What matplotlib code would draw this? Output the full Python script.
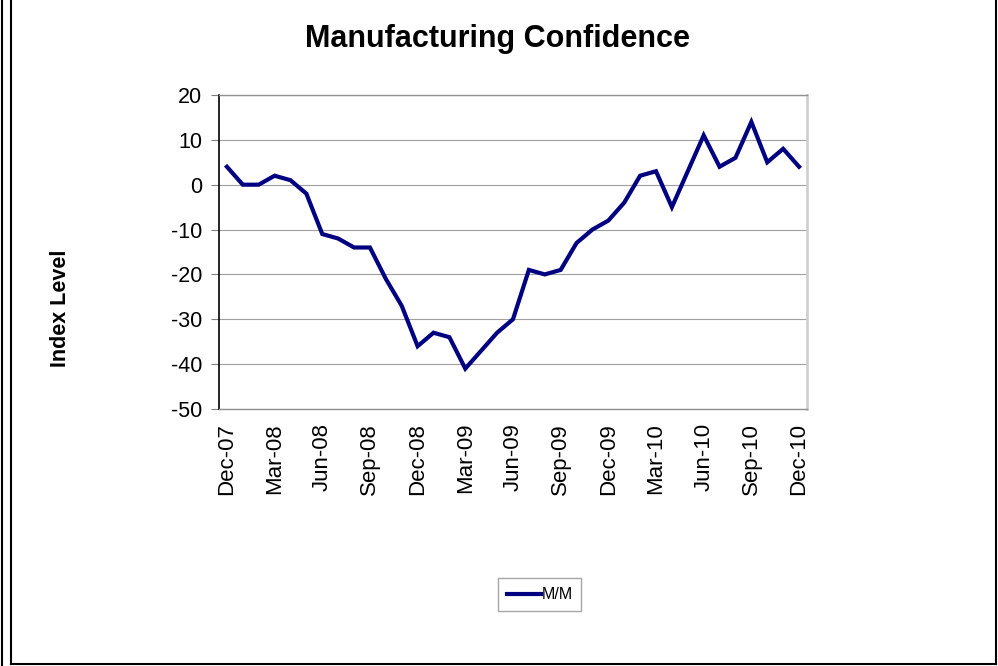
import matplotlib
matplotlib.use("Agg")
import matplotlib.pyplot as plt
from matplotlib.lines import Line2D
import numpy as np

plt.rcParams["font.family"] = ["Liberation Sans", "DejaVu Sans"]

LINE_COLOR = "#000080"

months = ["Dec-07", "Jan-08", "Feb-08", "Mar-08", "Apr-08", "May-08", "Jun-08",
          "Jul-08", "Aug-08", "Sep-08", "Oct-08", "Nov-08", "Dec-08",
          "Jan-09", "Feb-09", "Mar-09", "Apr-09", "May-09", "Jun-09",
          "Jul-09", "Aug-09", "Sep-09", "Oct-09", "Nov-09", "Dec-09",
          "Jan-10", "Feb-10", "Mar-10", "Apr-10", "May-10", "Jun-10",
          "Jul-10", "Aug-10", "Sep-10", "Oct-10", "Nov-10", "Dec-10"]
mm_values = [4, 0, 0, 2, 1, -2, -11, -12, -14, -14, -21, -27, -36,
             -33, -34, -41, -37, -33, -30, -19, -20, -19, -13, -10, -8,
             -4, 2, 3, -5, 3, 11, 4, 6, 14, 5, 8, 4]
y_ticks = [20, 10, 0, -10, -20, -30, -40, -50]

fig = plt.figure(figsize=(9.98, 6.66), dpi=100)
ax = fig.add_axes([0.2194, 0.3859, 0.5892, 0.4715])

x = np.arange(len(months))
ax.plot(x, mm_values, color=LINE_COLOR, linewidth=3, label="M/M", solid_joinstyle="miter")

ax.set_xlim(-0.5, len(months) - 0.5)
ax.set_ylim(-50, 20)
ax.set_yticks(y_ticks)
ax.set_yticklabels([str(v) for v in y_ticks], fontsize=15.5)
ax.set_xticks(x[::3])
ax.set_xticklabels(months[::3], rotation=90, fontsize=16)
ax.tick_params(axis="x", length=0, pad=10)
ax.tick_params(axis="y", direction="out", length=6, width=0.8, color="#808080", pad=6)

ax.grid(axis="y", color="#a0a0a0", linewidth=0.8)
ax.set_axisbelow(True)
ax.spines["left"].set_color("black")
ax.spines["left"].set_linewidth(1.2)
for side in ["top", "bottom"]:
    ax.spines[side].set_color("#909090")
    ax.spines[side].set_linewidth(1)
ax.spines["right"].set_color("#d0d0d0")
ax.spines["right"].set_linewidth(2)

ax.set_ylabel("Index Level", fontsize=15.5, fontweight="bold", labelpad=0)
ax.yaxis.set_label_coords(-0.252, 0.32)

fig.text(0.4985, 0.941, "Manufacturing Confidence", ha="center", va="center",
         fontsize=22, fontweight="bold")

leg = fig.legend(loc="center", bbox_to_anchor=(0.541, 0.107), fontsize=11.5,
                 frameon=True, fancybox=False, handlelength=2.1, handletextpad=0.05,
                 borderpad=0.55, borderaxespad=0)
leg.get_frame().set_edgecolor("#909090")
leg.get_frame().set_linewidth(1)

# outer frame of the chart area
W, H = 998, 666
def fline(x0, y0, x1, y1, lw=1.5, color="black"):
    fig.add_artist(Line2D([x0 / W, x1 / W], [1 - y0 / H, 1 - y1 / H],
                          color=color, linewidth=lw))

fline(1.5, 0, 1.5, 666, lw=1.5)
fline(10.5, 0, 10.5, 664, lw=1.5)
fline(10.5, 664, 996, 664, lw=1.5)
fline(996, 0, 996, 664, lw=1.5)

fig.savefig("out.png", dpi=100)
